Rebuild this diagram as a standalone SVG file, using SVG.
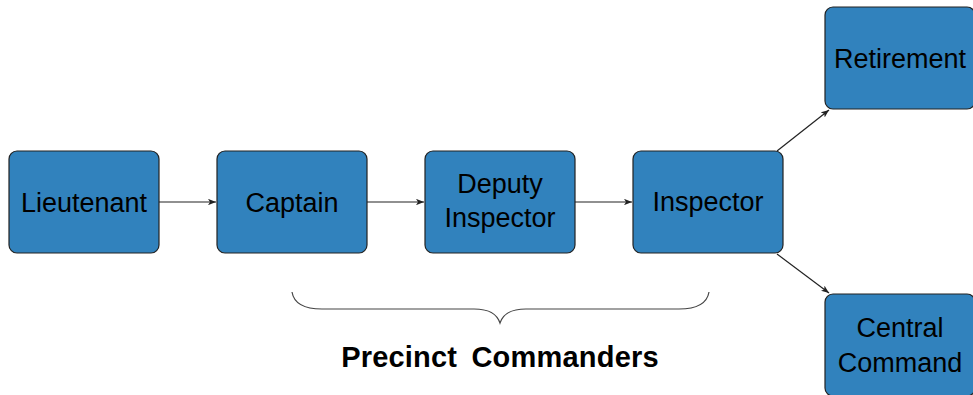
<svg xmlns="http://www.w3.org/2000/svg" width="973" height="395" viewBox="0 0 973 395">
<style>
.box{fill:#3182bd;stroke:#222;stroke-width:1.2}
.lbl{font-family:"Liberation Sans",Arial,sans-serif;font-size:27px;fill:#000;text-anchor:middle}
.edge{stroke:#222;stroke-width:1.2;fill:none;marker-end:url(#ah)}
.title{font-family:"Liberation Sans",Arial,sans-serif;font-size:29px;font-weight:bold;fill:#000;text-anchor:middle;word-spacing:6px;letter-spacing:0.2px}
</style>
<defs>
<marker id="ah" viewBox="0 0 10 8" refX="10" refY="4" markerWidth="8" markerHeight="6.4" markerUnits="userSpaceOnUse" orient="auto">
<path d="M0,0 L10,4 L0,8 L2.5,4 Z" fill="#222"/>
</marker>
</defs>
<rect width="973" height="395" fill="#fff"/>
<g id="connectors">
<line class="edge" x1="159" y1="202" x2="216" y2="202"/>
<line class="edge" x1="367" y1="202" x2="424" y2="202"/>
<line class="edge" x1="575" y1="202" x2="632" y2="202"/>
<line class="edge" x1="777" y1="151" x2="829" y2="110"/>
<line class="edge" x1="777" y1="254" x2="829" y2="293"/>
</g>
<g id="lieutenant"><rect class="box" x="9" y="151" width="150" height="102" rx="8"/><text class="lbl" x="84" y="212">Lieutenant</text></g>
<g id="captain"><rect class="box" x="217" y="151" width="150" height="102" rx="8"/><text class="lbl" x="292" y="212">Captain</text></g>
<g id="deputy"><rect class="box" x="425" y="151" width="150" height="102" rx="8"/><text class="lbl" x="500" y="193">Deputy</text><text class="lbl" x="500" y="227">Inspector</text></g>
<g id="inspector"><rect class="box" x="633" y="151" width="150" height="102" rx="8"/><text class="lbl" x="708" y="211">Inspector</text></g>
<g id="retirement"><rect class="box" x="825" y="7" width="150" height="102" rx="8"/><text class="lbl" x="900" y="68">Retirement</text></g>
<g id="central"><rect class="box" x="825" y="294" width="150" height="102" rx="8"/><text class="lbl" x="900" y="337">Central</text><text class="lbl" x="900" y="372">Command</text></g>
<g id="brace">
<path d="M292,292 C294,304 304,309 322,309 L474,309 C490,309 497,314 500,323 C503,314 510,309 526,309 L679,309 C697,309 707,304 709,292" fill="none" stroke="#444" stroke-width="1.2"/>
<text class="title" x="500" y="367">Precinct Commanders</text>
</g>
</svg>
